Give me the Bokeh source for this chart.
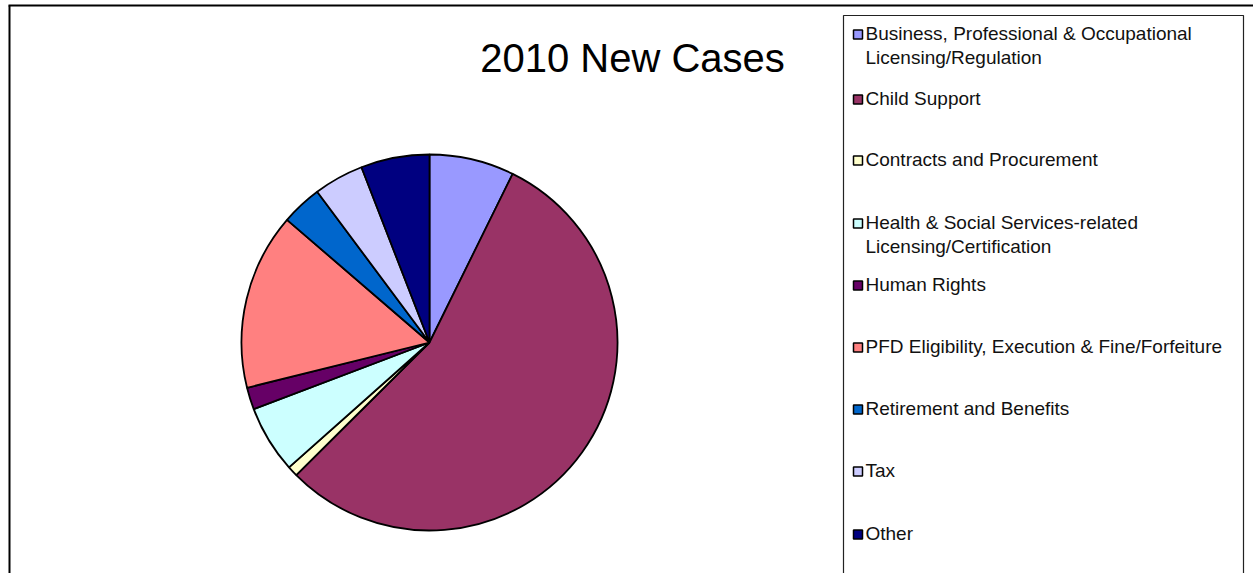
import numpy as np
from bokeh.plotting import figure
from bokeh.models import Range1d, ColumnDataSource
from bokeh.core.properties import value
from bokeh.embed import file_html
from bokeh.resources import INLINE

W, H = 1253, 573

# ---- data ----
categories = [
    "Business, Professional & Occupational Licensing/Regulation",
    "Child Support",
    "Contracts and Procurement",
    "Health & Social Services-related Licensing/Certification",
    "Human Rights",
    "PFD Eligibility, Execution & Fine/Forfeiture",
    "Retirement and Benefits",
    "Tax",
    "Other",
]
legend_lines = [
    ["Business,  Professional  & Occupational", "Licensing/Regulation"],
    ["Child Support"],
    ["Contracts  and  Procurement"],
    ["Health  & Social  Services-related", "Licensing/Certification"],
    ["Human Rights"],
    ["PFD Eligibility,  Execution  & Fine/Forfeiture"],
    ["Retirement  and  Benefits"],
    ["Tax"],
    ["Other"],
]
shares = [7.3, 55.3, 0.9, 5.8, 1.9, 15.2, 3.5, 4.3, 5.9]
colors = ["#9999FF", "#993366", "#FFFFCC", "#CCFFFF", "#660066",
          "#FF8080", "#0066CC", "#CCCCFF", "#000080"]
title = "2010 New Cases"

def Y(s):
    return H - s

p = figure(width=W, height=H, x_range=Range1d(0, W), y_range=Range1d(0, H),
           output_backend="svg", toolbar_location=None, min_border=0)
p.axis.visible = False
p.grid.visible = False
p.outline_line_color = None
p.background_fill_color = "white"
p.border_fill_color = "white"

# outer frame lines
p.line([8, W], [Y(5), Y(5)], line_color="black", line_width=2)
p.line([9, 9], [Y(5), Y(H + 5)], line_color="black", line_width=2)

# pie
vals = np.array(shares, dtype=float)
frac = vals / vals.sum()
cum = np.concatenate([[0], np.cumsum(frac)])
theta0 = cum[:-1] * 2 * np.pi
theta1 = cum[1:] * 2 * np.pi
start = np.pi / 2 - theta0
end = np.pi / 2 - theta1
cx, cy, r = 429, Y(342), 188
src = ColumnDataSource(dict(start=start, end=end, color=colors, cat=categories))
p.wedge(x=cx, y=cy, radius=r, start_angle="start", end_angle="end",
        direction="clock", fill_color="color", line_color="black",
        line_width=1.8, source=src)

# title
p.text(x=[632], y=[Y(57)], text=[title], text_align="center",
       text_baseline="middle", text_font=value("Liberation Sans"),
       text_font_size="40px", text_color="black")

# legend box
p.quad(left=[843], right=[1243], top=[Y(15)], bottom=[Y(H + 10)],
       fill_color=None, line_color="#222222", line_width=1.2)

centers = [33, 98, 159, 222, 284, 346, 408, 470, 533]
line_gap = 24
tx, ty, tt = [], [], []
for lines, c in zip(legend_lines, centers):
    for i, ln in enumerate(lines):
        tx.append(865)
        ty.append(Y(c + i * line_gap))
        tt.append(ln)
p.text(x=tx, y=ty, text=tt, text_align="left", text_baseline="middle",
       text_font=value("Liberation Sans"), text_font_size="19px",
       text_color="#111111")
p.rect(x=[857.5] * len(centers), y=[Y(c + 1) for c in centers],
       width=9, height=9, width_units="screen", height_units="screen",
       fill_color=colors, line_color="black", line_width=1.5)

open("out.html", "w").write(file_html(p, INLINE))
